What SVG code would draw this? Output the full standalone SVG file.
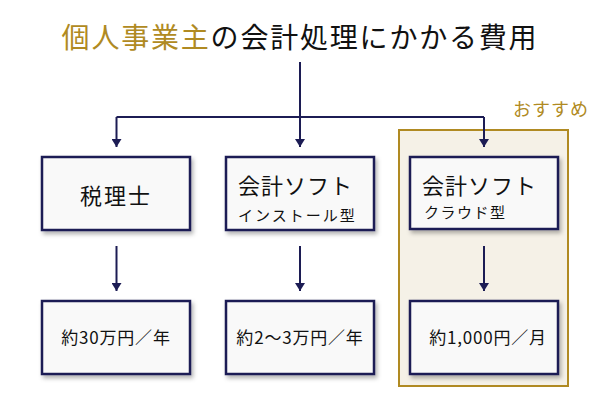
<svg xmlns="http://www.w3.org/2000/svg" width="600" height="400" viewBox="0 0 600 400">
<defs>
<style>
text{font-family:"Noto Sans CJK JP","Noto Sans",sans-serif;fill:#111;}
.box{fill:#f9f9f9;stroke:#1c1c54;stroke-width:2.5;filter:url(#sh);}
.line{fill:none;stroke:#1c1c54;stroke-width:2;}
.gold{fill:#b08a22;}
.price{font-size:17px;letter-spacing:0.8px;}
</style>
<filter id="sh" x="-10%" y="-10%" width="130%" height="140%">
<feDropShadow dx="2" dy="3" stdDeviation="2" flood-color="#000" flood-opacity="0.3"/>
</filter>
<marker id="ah" markerWidth="10" markerHeight="10" refX="8" refY="5" orient="auto" markerUnits="userSpaceOnUse" viewBox="0 0 10 10">
<path d="M0,0 L8,5 L0,10 Z" fill="#1c1c54"/>
</marker>
</defs>
<rect width="600" height="400" fill="#fff"/>
<text x="300" y="48" font-size="28" letter-spacing="1.8" text-anchor="middle"><tspan class="gold">個人事業主</tspan>の会計処理にかかる費用</text>
<g id="recommend">
<rect x="399" y="130" width="169" height="256" fill="#f5f1e7" stroke="#b08a22" stroke-width="2"/>
<text x="551" y="116" font-size="18" letter-spacing="1" text-anchor="middle" class="gold">おすすめ</text>
</g>
<g id="connectors">
<path class="line" d="M300,62 V117"/>
<path class="line" d="M116.5,117 H484"/>
<path class="line" d="M116.5,117 V147" marker-end="url(#ah)"/>
<path class="line" d="M300,117 V147" marker-end="url(#ah)"/>
<path class="line" d="M484,117 V147" marker-end="url(#ah)"/>
<path class="line" d="M116.5,246 V291" marker-end="url(#ah)"/>
<path class="line" d="M300,246 V291" marker-end="url(#ah)"/>
<path class="line" d="M484,246 V291" marker-end="url(#ah)"/>
</g>
<g id="n1">
<rect class="box" x="42" y="157" width="148" height="73"/>
<text x="116" y="204" font-size="22" letter-spacing="2" text-anchor="middle">税理士</text>
</g>
<g id="n2">
<rect class="box" x="226" y="157" width="148" height="73"/>
<text x="238" y="194" font-size="22" letter-spacing="1">会計ソフト</text>
<text x="238" y="221" font-size="15" letter-spacing="2">インストール型</text>
</g>
<g id="n3">
<rect class="box" x="410" y="157" width="148" height="72"/>
<text x="422" y="194" font-size="22" letter-spacing="1">会計ソフト</text>
<text x="424" y="218" font-size="15" letter-spacing="1.5">クラウド型</text>
</g>
<g id="n4">
<rect class="box" x="42" y="301" width="148" height="73"/>
<text x="116" y="344" class="price" text-anchor="middle">約30万円／年</text>
</g>
<g id="n5">
<rect class="box" x="226" y="301" width="148" height="73"/>
<text x="300" y="344" class="price" text-anchor="middle">約2～3万円／年</text>
</g>
<g id="n6">
<rect class="box" x="410" y="301" width="148" height="73"/>
<text x="488" y="344" class="price" text-anchor="middle">約1,000円／月</text>
</g>
</svg>
